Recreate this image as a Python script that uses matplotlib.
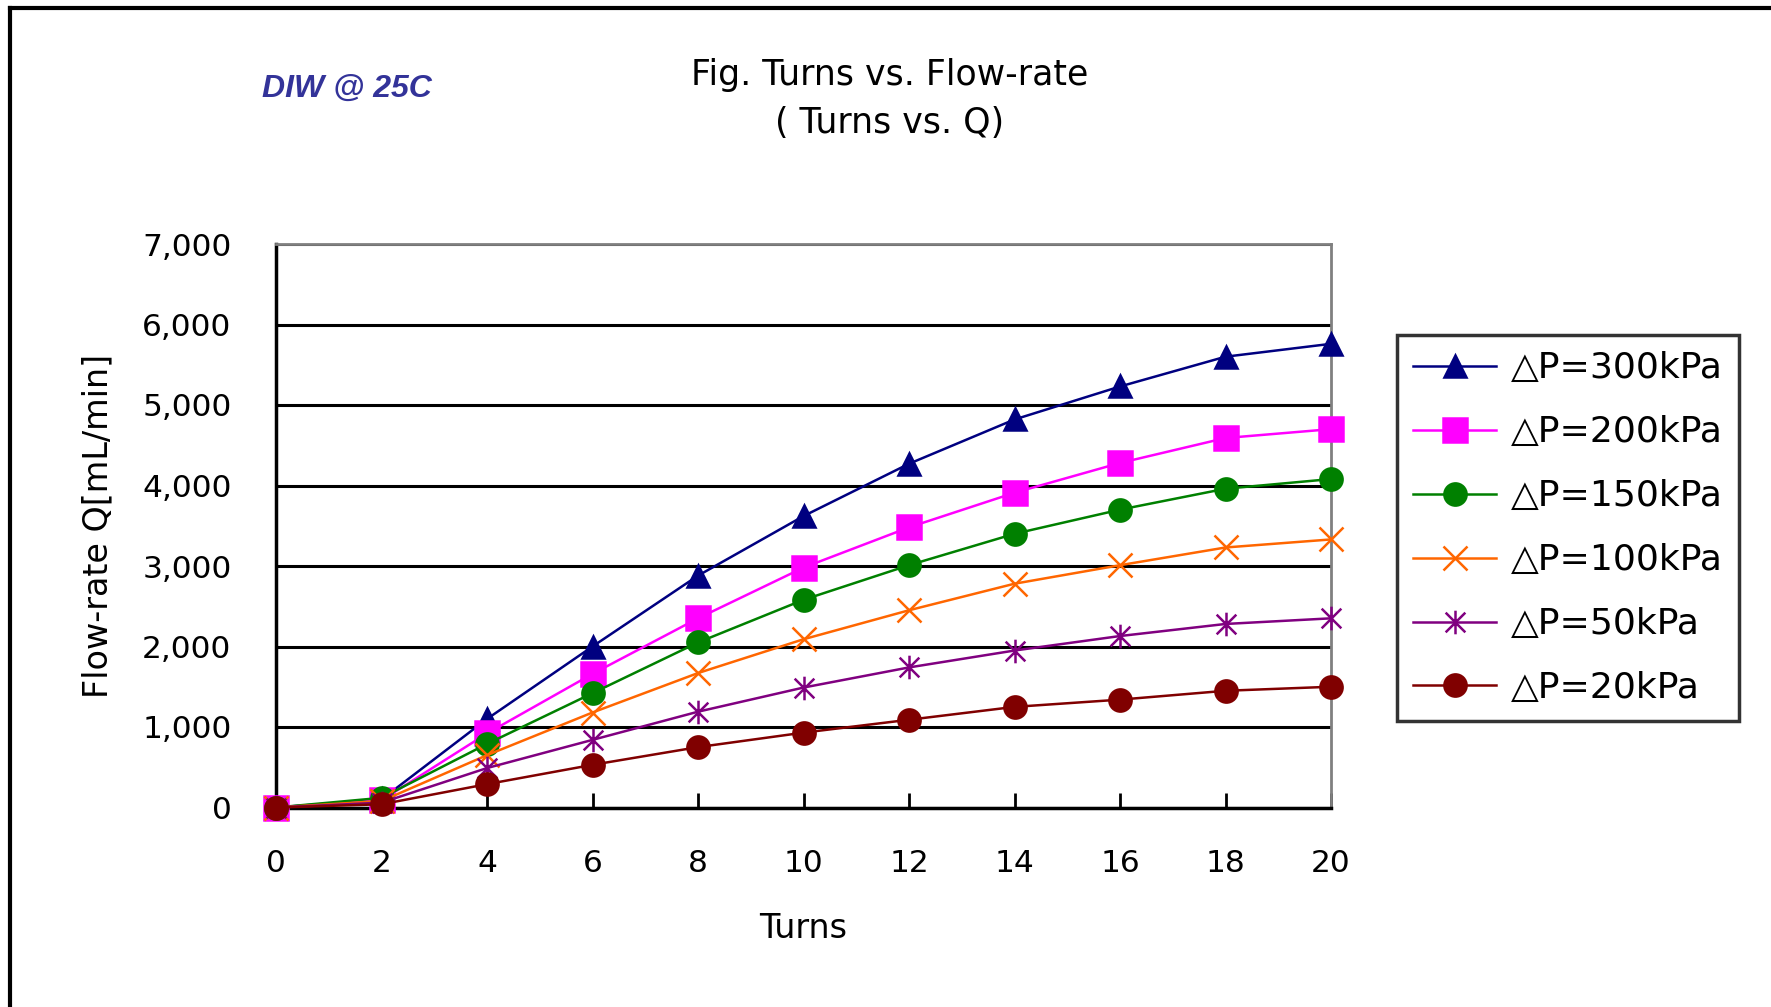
import matplotlib
matplotlib.use("Agg")
import matplotlib.pyplot as plt
from matplotlib.lines import Line2D
from matplotlib.path import Path
from matplotlib.ticker import FuncFormatter

# data
turns = [0, 2, 4, 6, 8, 10, 12, 14, 16, 18, 20]
q_300 = [0, 100, 1100, 2000, 2880, 3620, 4270, 4820, 5230, 5600, 5760]
q_200 = [0, 90, 920, 1660, 2350, 2980, 3480, 3910, 4280, 4590, 4700]
q_150 = [0, 120, 790, 1420, 2050, 2580, 3010, 3400, 3700, 3960, 4080]
q_100 = [0, 80, 650, 1180, 1670, 2090, 2450, 2780, 3010, 3230, 3330]
q_50 = [0, 60, 490, 840, 1190, 1490, 1740, 1950, 2130, 2280, 2350]
q_20 = [0, 40, 290, 530, 750, 930, 1090, 1250, 1340, 1450, 1500]
labels = ["△P=300kPa", "△P=200kPa", "△P=150kPa", "△P=100kPa", "△P=50kPa", "△P=20kPa"]

plt.rcParams['font.family'] = ['DejaVu Sans', 'Noto Sans CJK JP']

# excel style asterisk: an x plus a vertical bar
star = Path([(-1, -1), (1, 1), (-1, 1), (1, -1), (0, -1.2), (0, 1.2)],
            [Path.MOVETO, Path.LINETO, Path.MOVETO, Path.LINETO, Path.MOVETO, Path.LINETO])

series = [
    (q_300, '#000080', '^', 16),
    (q_200, '#FF00FF', 's', 17),
    (q_150, '#008000', 'o', 16),
    (q_100, '#FF6600', 'x', 17),
    (q_50, '#800080', star, 17),
    (q_20, '#800000', 'o', 16),
]

fig = plt.figure(figsize=(17.71, 10.07), dpi=100)
ax = fig.add_axes([276 / 1771, 1 - 807.5 / 1007, 1055 / 1771, 563.5 / 1007])

for (vals, color, marker, ms), label in zip(series, labels):
    ax.plot(turns, vals, color=color, marker=marker, markersize=ms, linewidth=1.8,
            markeredgewidth=1.8, label=label, clip_on=False, zorder=3)

ax.set_xlim(0, 20)
ax.set_ylim(0, 7000)
ax.set_xticks(range(0, 21, 2))
ax.set_yticks(range(0, 7001, 1000))
ax.yaxis.set_major_formatter(FuncFormatter(lambda v, p: '{:,.0f}'.format(v)))
ax.grid(True, axis='y', color='black', linewidth=2.2)
ax.set_axisbelow(True)

ax.tick_params(axis='x', direction='in', length=11, width=2, pad=30, labelsize=22.5)
ax.tick_params(axis='y', length=0, pad=32, labelsize=22.5)
ax.spines['left'].set_linewidth(2.5)
ax.spines['bottom'].set_linewidth(2.5)
ax.spines['top'].set_color('#808080')
ax.spines['right'].set_color('#808080')
ax.spines['top'].set_linewidth(2)
ax.spines['right'].set_linewidth(2)

ax.set_xlabel('Turns', fontsize=24, labelpad=24)
ax.set_ylabel('Flow-rate Q[mL/min]', fontsize=24, labelpad=20)

fig.text(890 / 1771, 1 - 99 / 1007, 'Fig. Turns vs. Flow-rate\n( Turns vs. Q)',
         ha='center', va='center', fontsize=25, linespacing=1.5)
fig.text(347 / 1771, 1 - 89 / 1007, 'DIW @ 25C', ha='center', va='center',
         fontsize=23, fontweight='bold', fontstyle='italic', color='#333399',
         family='Liberation Sans')

leg = ax.legend(loc='upper left', bbox_to_anchor=(1397 / 1771, 1 - 335 / 1007),
                bbox_transform=fig.transFigure, fontsize=26, frameon=True,
                fancybox=False, handlelength=2.3, handletextpad=0.4,
                labelspacing=0.83, borderpad=0.45, borderaxespad=0)
leg.get_frame().set_edgecolor('black')
leg.get_frame().set_linewidth(2.5)

# outer chart border, clipped at right and bottom like the reference
fig.add_artist(Line2D([10 / 1771, 1.0], [1 - 8 / 1007, 1 - 8 / 1007], color='black', linewidth=3))
fig.add_artist(Line2D([10 / 1771, 10 / 1771], [0.0, 1 - 8 / 1007], color='black', linewidth=3))

fig.savefig('out.png', dpi=100)
